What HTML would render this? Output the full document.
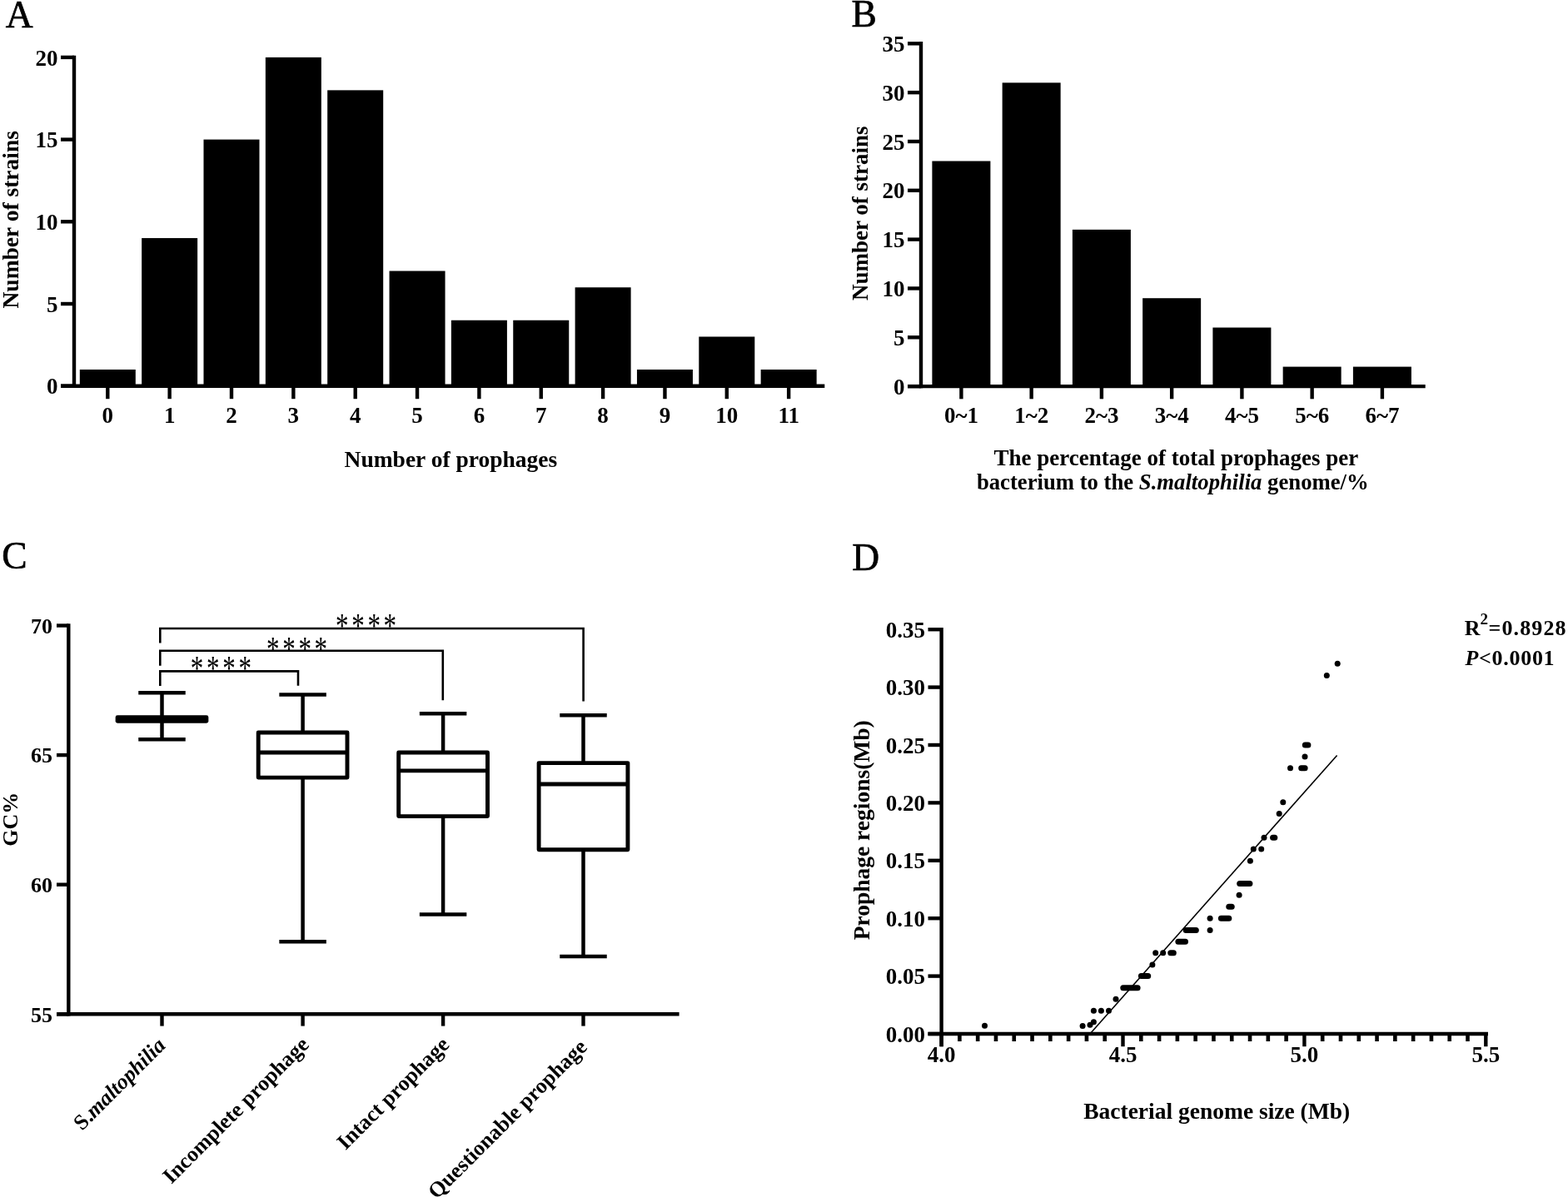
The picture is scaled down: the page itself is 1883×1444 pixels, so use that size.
<!DOCTYPE html>
<html><head><meta charset="utf-8"><title>Figure</title>
<style>
html,body{margin:0;padding:0;background:#fff;}
svg{display:block;}
svg text{font-family:'Liberation Serif','Times New Roman',serif;fill:#000;}
</style></head>
<body>
<svg width="1883" height="1444" viewBox="0 0 1883 1444">
<rect x="0" y="0" width="1883" height="1444" fill="#fff"/>
<text x="6.70" y="32.60" font-size="45.5" text-anchor="start" font-weight="normal" font-style="normal" stroke="#000" stroke-width="0.7">A</text>
<text x="1022.50" y="31.90" font-size="45.5" text-anchor="start" font-weight="normal" font-style="normal" stroke="#000" stroke-width="0.7">B</text>
<text x="2.30" y="683.00" font-size="45.5" text-anchor="start" font-weight="normal" font-style="normal" stroke="#000" stroke-width="0.7">C</text>
<text x="1023.30" y="684.50" font-size="45.5" text-anchor="start" font-weight="normal" font-style="normal" stroke="#000" stroke-width="0.7">D</text>
<rect x="95.80" y="443.96" width="67.00" height="19.74" fill="#000"/>
<rect x="170.15" y="286.04" width="67.00" height="177.66" fill="#000"/>
<rect x="244.50" y="167.60" width="67.00" height="296.10" fill="#000"/>
<rect x="318.85" y="68.90" width="67.00" height="394.80" fill="#000"/>
<rect x="393.20" y="108.38" width="67.00" height="355.32" fill="#000"/>
<rect x="467.55" y="325.52" width="67.00" height="138.18" fill="#000"/>
<rect x="541.90" y="384.74" width="67.00" height="78.96" fill="#000"/>
<rect x="616.25" y="384.74" width="67.00" height="78.96" fill="#000"/>
<rect x="690.60" y="345.26" width="67.00" height="118.44" fill="#000"/>
<rect x="764.95" y="443.96" width="67.00" height="19.74" fill="#000"/>
<rect x="839.30" y="404.48" width="67.00" height="59.22" fill="#000"/>
<rect x="913.65" y="443.96" width="67.00" height="19.74" fill="#000"/>
<line x1="89.00" y1="66.70" x2="89.00" y2="465.90" stroke="#000" stroke-width="4.4" stroke-linecap="butt"/>
<line x1="73.00" y1="463.70" x2="990.30" y2="463.70" stroke="#000" stroke-width="4.4" stroke-linecap="butt"/>
<line x1="73.00" y1="463.70" x2="89.00" y2="463.70" stroke="#000" stroke-width="4.4" stroke-linecap="butt"/>
<text x="69.50" y="473.30" font-size="27" text-anchor="end" font-weight="bold" font-style="normal" >0</text>
<line x1="73.00" y1="365.00" x2="89.00" y2="365.00" stroke="#000" stroke-width="4.4" stroke-linecap="butt"/>
<text x="69.50" y="374.60" font-size="27" text-anchor="end" font-weight="bold" font-style="normal" >5</text>
<line x1="73.00" y1="266.30" x2="89.00" y2="266.30" stroke="#000" stroke-width="4.4" stroke-linecap="butt"/>
<text x="69.50" y="275.90" font-size="27" text-anchor="end" font-weight="bold" font-style="normal" >10</text>
<line x1="73.00" y1="167.60" x2="89.00" y2="167.60" stroke="#000" stroke-width="4.4" stroke-linecap="butt"/>
<text x="69.50" y="177.20" font-size="27" text-anchor="end" font-weight="bold" font-style="normal" >15</text>
<line x1="73.00" y1="68.90" x2="89.00" y2="68.90" stroke="#000" stroke-width="4.4" stroke-linecap="butt"/>
<text x="69.50" y="78.50" font-size="27" text-anchor="end" font-weight="bold" font-style="normal" >20</text>
<line x1="129.30" y1="463.70" x2="129.30" y2="479.20" stroke="#000" stroke-width="4.4" stroke-linecap="butt"/>
<text x="129.30" y="507.80" font-size="27" text-anchor="middle" font-weight="bold" font-style="normal" >0</text>
<line x1="203.65" y1="463.70" x2="203.65" y2="479.20" stroke="#000" stroke-width="4.4" stroke-linecap="butt"/>
<text x="203.65" y="507.80" font-size="27" text-anchor="middle" font-weight="bold" font-style="normal" >1</text>
<line x1="278.00" y1="463.70" x2="278.00" y2="479.20" stroke="#000" stroke-width="4.4" stroke-linecap="butt"/>
<text x="278.00" y="507.80" font-size="27" text-anchor="middle" font-weight="bold" font-style="normal" >2</text>
<line x1="352.35" y1="463.70" x2="352.35" y2="479.20" stroke="#000" stroke-width="4.4" stroke-linecap="butt"/>
<text x="352.35" y="507.80" font-size="27" text-anchor="middle" font-weight="bold" font-style="normal" >3</text>
<line x1="426.70" y1="463.70" x2="426.70" y2="479.20" stroke="#000" stroke-width="4.4" stroke-linecap="butt"/>
<text x="426.70" y="507.80" font-size="27" text-anchor="middle" font-weight="bold" font-style="normal" >4</text>
<line x1="501.05" y1="463.70" x2="501.05" y2="479.20" stroke="#000" stroke-width="4.4" stroke-linecap="butt"/>
<text x="501.05" y="507.80" font-size="27" text-anchor="middle" font-weight="bold" font-style="normal" >5</text>
<line x1="575.40" y1="463.70" x2="575.40" y2="479.20" stroke="#000" stroke-width="4.4" stroke-linecap="butt"/>
<text x="575.40" y="507.80" font-size="27" text-anchor="middle" font-weight="bold" font-style="normal" >6</text>
<line x1="649.75" y1="463.70" x2="649.75" y2="479.20" stroke="#000" stroke-width="4.4" stroke-linecap="butt"/>
<text x="649.75" y="507.80" font-size="27" text-anchor="middle" font-weight="bold" font-style="normal" >7</text>
<line x1="724.10" y1="463.70" x2="724.10" y2="479.20" stroke="#000" stroke-width="4.4" stroke-linecap="butt"/>
<text x="724.10" y="507.80" font-size="27" text-anchor="middle" font-weight="bold" font-style="normal" >8</text>
<line x1="798.45" y1="463.70" x2="798.45" y2="479.20" stroke="#000" stroke-width="4.4" stroke-linecap="butt"/>
<text x="798.45" y="507.80" font-size="27" text-anchor="middle" font-weight="bold" font-style="normal" >9</text>
<line x1="872.80" y1="463.70" x2="872.80" y2="479.20" stroke="#000" stroke-width="4.4" stroke-linecap="butt"/>
<text x="872.80" y="507.80" font-size="27" text-anchor="middle" font-weight="bold" font-style="normal" >10</text>
<line x1="947.15" y1="463.70" x2="947.15" y2="479.20" stroke="#000" stroke-width="4.4" stroke-linecap="butt"/>
<text x="947.15" y="507.80" font-size="27" text-anchor="middle" font-weight="bold" font-style="normal" >11</text>
<text x="541.40" y="560.60" font-size="27.5" text-anchor="middle" font-weight="bold" font-style="normal" >Number of prophages</text>
<text x="0.00" y="0.00" font-size="27.5" text-anchor="middle" font-weight="bold" font-style="normal" transform="translate(22.4,263.8) rotate(-90)">Number of strains</text>
<rect x="1119.40" y="193.50" width="70.00" height="270.60" fill="#000"/>
<rect x="1203.65" y="99.38" width="70.00" height="364.72" fill="#000"/>
<rect x="1287.90" y="275.86" width="70.00" height="188.24" fill="#000"/>
<rect x="1372.15" y="358.22" width="70.00" height="105.89" fill="#000"/>
<rect x="1456.40" y="393.51" width="70.00" height="70.59" fill="#000"/>
<rect x="1540.65" y="440.57" width="70.00" height="23.53" fill="#000"/>
<rect x="1624.90" y="440.57" width="70.00" height="23.53" fill="#000"/>
<line x1="1106.00" y1="50.12" x2="1106.00" y2="466.30" stroke="#000" stroke-width="4.4" stroke-linecap="butt"/>
<line x1="1090.00" y1="464.10" x2="1711.70" y2="464.10" stroke="#000" stroke-width="4.4" stroke-linecap="butt"/>
<line x1="1090.00" y1="464.10" x2="1106.00" y2="464.10" stroke="#000" stroke-width="4.4" stroke-linecap="butt"/>
<text x="1086.50" y="473.70" font-size="27" text-anchor="end" font-weight="bold" font-style="normal" >0</text>
<line x1="1090.00" y1="405.28" x2="1106.00" y2="405.28" stroke="#000" stroke-width="4.4" stroke-linecap="butt"/>
<text x="1086.50" y="414.88" font-size="27" text-anchor="end" font-weight="bold" font-style="normal" >5</text>
<line x1="1090.00" y1="346.45" x2="1106.00" y2="346.45" stroke="#000" stroke-width="4.4" stroke-linecap="butt"/>
<text x="1086.50" y="356.05" font-size="27" text-anchor="end" font-weight="bold" font-style="normal" >10</text>
<line x1="1090.00" y1="287.62" x2="1106.00" y2="287.62" stroke="#000" stroke-width="4.4" stroke-linecap="butt"/>
<text x="1086.50" y="297.23" font-size="27" text-anchor="end" font-weight="bold" font-style="normal" >15</text>
<line x1="1090.00" y1="228.80" x2="1106.00" y2="228.80" stroke="#000" stroke-width="4.4" stroke-linecap="butt"/>
<text x="1086.50" y="238.40" font-size="27" text-anchor="end" font-weight="bold" font-style="normal" >20</text>
<line x1="1090.00" y1="169.98" x2="1106.00" y2="169.98" stroke="#000" stroke-width="4.4" stroke-linecap="butt"/>
<text x="1086.50" y="179.58" font-size="27" text-anchor="end" font-weight="bold" font-style="normal" >25</text>
<line x1="1090.00" y1="111.15" x2="1106.00" y2="111.15" stroke="#000" stroke-width="4.4" stroke-linecap="butt"/>
<text x="1086.50" y="120.75" font-size="27" text-anchor="end" font-weight="bold" font-style="normal" >30</text>
<line x1="1090.00" y1="52.32" x2="1106.00" y2="52.32" stroke="#000" stroke-width="4.4" stroke-linecap="butt"/>
<text x="1086.50" y="61.92" font-size="27" text-anchor="end" font-weight="bold" font-style="normal" >35</text>
<line x1="1154.40" y1="464.10" x2="1154.40" y2="479.30" stroke="#000" stroke-width="4.4" stroke-linecap="butt"/>
<text x="1154.40" y="507.80" font-size="27" text-anchor="middle" font-weight="bold" font-style="normal" >0~1</text>
<line x1="1238.65" y1="464.10" x2="1238.65" y2="479.30" stroke="#000" stroke-width="4.4" stroke-linecap="butt"/>
<text x="1238.65" y="507.80" font-size="27" text-anchor="middle" font-weight="bold" font-style="normal" >1~2</text>
<line x1="1322.90" y1="464.10" x2="1322.90" y2="479.30" stroke="#000" stroke-width="4.4" stroke-linecap="butt"/>
<text x="1322.90" y="507.80" font-size="27" text-anchor="middle" font-weight="bold" font-style="normal" >2~3</text>
<line x1="1407.15" y1="464.10" x2="1407.15" y2="479.30" stroke="#000" stroke-width="4.4" stroke-linecap="butt"/>
<text x="1407.15" y="507.80" font-size="27" text-anchor="middle" font-weight="bold" font-style="normal" >3~4</text>
<line x1="1491.40" y1="464.10" x2="1491.40" y2="479.30" stroke="#000" stroke-width="4.4" stroke-linecap="butt"/>
<text x="1491.40" y="507.80" font-size="27" text-anchor="middle" font-weight="bold" font-style="normal" >4~5</text>
<line x1="1575.65" y1="464.10" x2="1575.65" y2="479.30" stroke="#000" stroke-width="4.4" stroke-linecap="butt"/>
<text x="1575.65" y="507.80" font-size="27" text-anchor="middle" font-weight="bold" font-style="normal" >5~6</text>
<line x1="1659.90" y1="464.10" x2="1659.90" y2="479.30" stroke="#000" stroke-width="4.4" stroke-linecap="butt"/>
<text x="1659.90" y="507.80" font-size="27" text-anchor="middle" font-weight="bold" font-style="normal" >6~7</text>
<text x="1412.30" y="559.20" font-size="27" text-anchor="middle" font-weight="bold" font-style="normal" >The percentage of total prophages per</text>
<text x="1408.30" y="587.90" font-size="26.7" text-anchor="middle" font-weight="bold" font-style="normal" >bacterium to the <tspan font-style="italic">S.maltophilia</tspan> genome/%</text>
<text x="0.00" y="0.00" font-size="27" text-anchor="middle" font-weight="bold" font-style="normal" transform="translate(1041.8,256.3) rotate(-90)">Number of strains</text>
<line x1="82.30" y1="749.30" x2="82.30" y2="1220.50" stroke="#000" stroke-width="4.4" stroke-linecap="butt"/>
<line x1="68.00" y1="1218.30" x2="815.60" y2="1218.30" stroke="#000" stroke-width="4.4" stroke-linecap="butt"/>
<line x1="68.00" y1="1218.30" x2="82.30" y2="1218.30" stroke="#000" stroke-width="4.4" stroke-linecap="butt"/>
<text x="63.00" y="1227.60" font-size="26" text-anchor="end" font-weight="bold" font-style="normal" >55</text>
<line x1="68.00" y1="1062.70" x2="82.30" y2="1062.70" stroke="#000" stroke-width="4.4" stroke-linecap="butt"/>
<text x="63.00" y="1072.00" font-size="26" text-anchor="end" font-weight="bold" font-style="normal" >60</text>
<line x1="68.00" y1="907.10" x2="82.30" y2="907.10" stroke="#000" stroke-width="4.4" stroke-linecap="butt"/>
<text x="63.00" y="916.40" font-size="26" text-anchor="end" font-weight="bold" font-style="normal" >65</text>
<line x1="68.00" y1="751.50" x2="82.30" y2="751.50" stroke="#000" stroke-width="4.4" stroke-linecap="butt"/>
<text x="63.00" y="760.80" font-size="26" text-anchor="end" font-weight="bold" font-style="normal" >70</text>
<line x1="194.50" y1="1218.30" x2="194.50" y2="1232.60" stroke="#000" stroke-width="4.4" stroke-linecap="butt"/>
<line x1="363.60" y1="1218.30" x2="363.60" y2="1232.60" stroke="#000" stroke-width="4.4" stroke-linecap="butt"/>
<line x1="532.10" y1="1218.30" x2="532.10" y2="1232.60" stroke="#000" stroke-width="4.4" stroke-linecap="butt"/>
<line x1="700.50" y1="1218.30" x2="700.50" y2="1232.60" stroke="#000" stroke-width="4.4" stroke-linecap="butt"/>
<line x1="194.50" y1="832.30" x2="194.50" y2="861.80" stroke="#000" stroke-width="4.5" stroke-linecap="butt"/>
<line x1="194.50" y1="866.20" x2="194.50" y2="888.30" stroke="#000" stroke-width="4.5" stroke-linecap="butt"/>
<line x1="166.25" y1="832.30" x2="222.75" y2="832.30" stroke="#000" stroke-width="4.5" stroke-linecap="butt"/>
<line x1="166.25" y1="888.30" x2="222.75" y2="888.30" stroke="#000" stroke-width="4.5" stroke-linecap="butt"/>
<rect x="141.10" y="861.80" width="106.80" height="4.40" fill="#fff" stroke="#000" stroke-width="4.9" stroke-linejoin="round"/>
<line x1="141.10" y1="864.00" x2="247.90" y2="864.00" stroke="#000" stroke-width="4.9" stroke-linecap="butt"/>
<line x1="363.60" y1="834.50" x2="363.60" y2="880.00" stroke="#000" stroke-width="4.5" stroke-linecap="butt"/>
<line x1="363.60" y1="934.10" x2="363.60" y2="1131.30" stroke="#000" stroke-width="4.5" stroke-linecap="butt"/>
<line x1="335.35" y1="834.50" x2="391.85" y2="834.50" stroke="#000" stroke-width="4.5" stroke-linecap="butt"/>
<line x1="335.35" y1="1131.30" x2="391.85" y2="1131.30" stroke="#000" stroke-width="4.5" stroke-linecap="butt"/>
<rect x="310.20" y="880.00" width="106.80" height="54.10" fill="#fff" stroke="#000" stroke-width="4.9" stroke-linejoin="round"/>
<line x1="310.20" y1="904.00" x2="417.00" y2="904.00" stroke="#000" stroke-width="4.9" stroke-linecap="butt"/>
<line x1="532.10" y1="857.30" x2="532.10" y2="904.00" stroke="#000" stroke-width="4.5" stroke-linecap="butt"/>
<line x1="532.10" y1="980.60" x2="532.10" y2="1098.60" stroke="#000" stroke-width="4.5" stroke-linecap="butt"/>
<line x1="503.85" y1="857.30" x2="560.35" y2="857.30" stroke="#000" stroke-width="4.5" stroke-linecap="butt"/>
<line x1="503.85" y1="1098.60" x2="560.35" y2="1098.60" stroke="#000" stroke-width="4.5" stroke-linecap="butt"/>
<rect x="478.70" y="904.00" width="106.80" height="76.60" fill="#fff" stroke="#000" stroke-width="4.9" stroke-linejoin="round"/>
<line x1="478.70" y1="925.90" x2="585.50" y2="925.90" stroke="#000" stroke-width="4.9" stroke-linecap="butt"/>
<line x1="700.50" y1="859.30" x2="700.50" y2="916.60" stroke="#000" stroke-width="4.5" stroke-linecap="butt"/>
<line x1="700.50" y1="1020.80" x2="700.50" y2="1148.90" stroke="#000" stroke-width="4.5" stroke-linecap="butt"/>
<line x1="672.25" y1="859.30" x2="728.75" y2="859.30" stroke="#000" stroke-width="4.5" stroke-linecap="butt"/>
<line x1="672.25" y1="1148.90" x2="728.75" y2="1148.90" stroke="#000" stroke-width="4.5" stroke-linecap="butt"/>
<rect x="647.10" y="916.60" width="106.80" height="104.20" fill="#fff" stroke="#000" stroke-width="4.9" stroke-linejoin="round"/>
<line x1="647.10" y1="942.00" x2="753.90" y2="942.00" stroke="#000" stroke-width="4.9" stroke-linecap="butt"/>
<polyline points="192.30,824.00 192.30,806.40 358.00,806.40 358.00,823.80" fill="none" stroke="#000" stroke-width="2.6"/>
<polyline points="192.30,799.80 192.30,781.80 531.80,781.80 531.80,841.20" fill="none" stroke="#000" stroke-width="2.6"/>
<polyline points="192.30,772.40 192.30,755.00 700.60,755.00 700.60,842.40" fill="none" stroke="#000" stroke-width="2.6"/>
<text x="0" y="0" font-size="31" font-weight="normal" letter-spacing="3.7" transform="translate(228.80,816.80) scale(1,1.35)">****</text>
<text x="0" y="0" font-size="31" font-weight="normal" letter-spacing="3.7" transform="translate(320.00,793.60) scale(1,1.35)">****</text>
<text x="0" y="0" font-size="31" font-weight="normal" letter-spacing="3.7" transform="translate(403.00,765.50) scale(1,1.35)">****</text>
<text x="0.00" y="0.00" font-size="26" text-anchor="middle" font-weight="bold" font-style="normal" transform="translate(20.5,984.3) rotate(-90)">GC%</text>
<text x="0.00" y="0.00" font-size="26" text-anchor="end" font-weight="bold" font-style="normal" transform="translate(200.10,1257.40) rotate(-45)"><tspan>S.</tspan><tspan font-style="italic">maltophilia</tspan></text>
<text x="0.00" y="0.00" font-size="26" text-anchor="end" font-weight="bold" font-style="normal" transform="translate(372.40,1256.40) rotate(-45)">Incomplete prophage</text>
<text x="0.00" y="0.00" font-size="26" text-anchor="end" font-weight="bold" font-style="normal" transform="translate(540.90,1256.40) rotate(-45)">Intact prophage</text>
<text x="0.00" y="0.00" font-size="26" text-anchor="end" font-weight="bold" font-style="normal" transform="translate(706.30,1259.40) rotate(-45)">Questionable prophage</text>
<line x1="1130.60" y1="754.00" x2="1130.60" y2="1257.20" stroke="#000" stroke-width="4.4" stroke-linecap="butt"/>
<line x1="1114.50" y1="1242.00" x2="1787.00" y2="1242.00" stroke="#000" stroke-width="4.4" stroke-linecap="butt"/>
<line x1="1114.50" y1="1242.00" x2="1130.60" y2="1242.00" stroke="#000" stroke-width="4.4" stroke-linecap="butt"/>
<text x="1111.00" y="1251.60" font-size="27" text-anchor="end" font-weight="bold" font-style="normal" >0.00</text>
<line x1="1114.50" y1="1172.60" x2="1130.60" y2="1172.60" stroke="#000" stroke-width="4.4" stroke-linecap="butt"/>
<text x="1111.00" y="1182.20" font-size="27" text-anchor="end" font-weight="bold" font-style="normal" >0.05</text>
<line x1="1114.50" y1="1103.20" x2="1130.60" y2="1103.20" stroke="#000" stroke-width="4.4" stroke-linecap="butt"/>
<text x="1111.00" y="1112.80" font-size="27" text-anchor="end" font-weight="bold" font-style="normal" >0.10</text>
<line x1="1114.50" y1="1033.80" x2="1130.60" y2="1033.80" stroke="#000" stroke-width="4.4" stroke-linecap="butt"/>
<text x="1111.00" y="1043.40" font-size="27" text-anchor="end" font-weight="bold" font-style="normal" >0.15</text>
<line x1="1114.50" y1="964.40" x2="1130.60" y2="964.40" stroke="#000" stroke-width="4.4" stroke-linecap="butt"/>
<text x="1111.00" y="974.00" font-size="27" text-anchor="end" font-weight="bold" font-style="normal" >0.20</text>
<line x1="1114.50" y1="895.00" x2="1130.60" y2="895.00" stroke="#000" stroke-width="4.4" stroke-linecap="butt"/>
<text x="1111.00" y="904.60" font-size="27" text-anchor="end" font-weight="bold" font-style="normal" >0.25</text>
<line x1="1114.50" y1="825.60" x2="1130.60" y2="825.60" stroke="#000" stroke-width="4.4" stroke-linecap="butt"/>
<text x="1111.00" y="835.20" font-size="27" text-anchor="end" font-weight="bold" font-style="normal" >0.30</text>
<line x1="1114.50" y1="756.20" x2="1130.60" y2="756.20" stroke="#000" stroke-width="4.4" stroke-linecap="butt"/>
<text x="1111.00" y="765.80" font-size="27" text-anchor="end" font-weight="bold" font-style="normal" >0.35</text>
<line x1="1130.60" y1="1242.00" x2="1130.60" y2="1257.20" stroke="#000" stroke-width="4.4" stroke-linecap="butt"/>
<line x1="1152.39" y1="1242.00" x2="1152.39" y2="1251.00" stroke="#000" stroke-width="4.6" stroke-linecap="butt"/>
<line x1="1174.18" y1="1242.00" x2="1174.18" y2="1251.00" stroke="#000" stroke-width="4.6" stroke-linecap="butt"/>
<line x1="1195.97" y1="1242.00" x2="1195.97" y2="1251.00" stroke="#000" stroke-width="4.6" stroke-linecap="butt"/>
<line x1="1217.76" y1="1242.00" x2="1217.76" y2="1251.00" stroke="#000" stroke-width="4.6" stroke-linecap="butt"/>
<line x1="1239.55" y1="1242.00" x2="1239.55" y2="1251.00" stroke="#000" stroke-width="4.6" stroke-linecap="butt"/>
<line x1="1261.34" y1="1242.00" x2="1261.34" y2="1251.00" stroke="#000" stroke-width="4.6" stroke-linecap="butt"/>
<line x1="1283.13" y1="1242.00" x2="1283.13" y2="1251.00" stroke="#000" stroke-width="4.6" stroke-linecap="butt"/>
<line x1="1304.92" y1="1242.00" x2="1304.92" y2="1251.00" stroke="#000" stroke-width="4.6" stroke-linecap="butt"/>
<line x1="1326.71" y1="1242.00" x2="1326.71" y2="1251.00" stroke="#000" stroke-width="4.6" stroke-linecap="butt"/>
<line x1="1348.50" y1="1242.00" x2="1348.50" y2="1257.20" stroke="#000" stroke-width="4.4" stroke-linecap="butt"/>
<line x1="1370.29" y1="1242.00" x2="1370.29" y2="1251.00" stroke="#000" stroke-width="4.6" stroke-linecap="butt"/>
<line x1="1392.08" y1="1242.00" x2="1392.08" y2="1251.00" stroke="#000" stroke-width="4.6" stroke-linecap="butt"/>
<line x1="1413.87" y1="1242.00" x2="1413.87" y2="1251.00" stroke="#000" stroke-width="4.6" stroke-linecap="butt"/>
<line x1="1435.66" y1="1242.00" x2="1435.66" y2="1251.00" stroke="#000" stroke-width="4.6" stroke-linecap="butt"/>
<line x1="1457.45" y1="1242.00" x2="1457.45" y2="1251.00" stroke="#000" stroke-width="4.6" stroke-linecap="butt"/>
<line x1="1479.24" y1="1242.00" x2="1479.24" y2="1251.00" stroke="#000" stroke-width="4.6" stroke-linecap="butt"/>
<line x1="1501.03" y1="1242.00" x2="1501.03" y2="1251.00" stroke="#000" stroke-width="4.6" stroke-linecap="butt"/>
<line x1="1522.82" y1="1242.00" x2="1522.82" y2="1251.00" stroke="#000" stroke-width="4.6" stroke-linecap="butt"/>
<line x1="1544.61" y1="1242.00" x2="1544.61" y2="1251.00" stroke="#000" stroke-width="4.6" stroke-linecap="butt"/>
<line x1="1566.40" y1="1242.00" x2="1566.40" y2="1257.20" stroke="#000" stroke-width="4.4" stroke-linecap="butt"/>
<line x1="1588.19" y1="1242.00" x2="1588.19" y2="1251.00" stroke="#000" stroke-width="4.6" stroke-linecap="butt"/>
<line x1="1609.98" y1="1242.00" x2="1609.98" y2="1251.00" stroke="#000" stroke-width="4.6" stroke-linecap="butt"/>
<line x1="1631.77" y1="1242.00" x2="1631.77" y2="1251.00" stroke="#000" stroke-width="4.6" stroke-linecap="butt"/>
<line x1="1653.56" y1="1242.00" x2="1653.56" y2="1251.00" stroke="#000" stroke-width="4.6" stroke-linecap="butt"/>
<line x1="1675.35" y1="1242.00" x2="1675.35" y2="1251.00" stroke="#000" stroke-width="4.6" stroke-linecap="butt"/>
<line x1="1697.14" y1="1242.00" x2="1697.14" y2="1251.00" stroke="#000" stroke-width="4.6" stroke-linecap="butt"/>
<line x1="1718.93" y1="1242.00" x2="1718.93" y2="1251.00" stroke="#000" stroke-width="4.6" stroke-linecap="butt"/>
<line x1="1740.72" y1="1242.00" x2="1740.72" y2="1251.00" stroke="#000" stroke-width="4.6" stroke-linecap="butt"/>
<line x1="1762.51" y1="1242.00" x2="1762.51" y2="1251.00" stroke="#000" stroke-width="4.6" stroke-linecap="butt"/>
<line x1="1784.30" y1="1242.00" x2="1784.30" y2="1257.20" stroke="#000" stroke-width="4.4" stroke-linecap="butt"/>
<text x="1130.60" y="1275.60" font-size="27" text-anchor="middle" font-weight="bold" font-style="normal" >4.0</text>
<text x="1348.50" y="1275.60" font-size="27" text-anchor="middle" font-weight="bold" font-style="normal" >4.5</text>
<text x="1566.40" y="1275.60" font-size="27" text-anchor="middle" font-weight="bold" font-style="normal" >5.0</text>
<text x="1784.30" y="1275.60" font-size="27" text-anchor="middle" font-weight="bold" font-style="normal" >5.5</text>
<text x="1461.20" y="1343.60" font-size="27.5" text-anchor="middle" font-weight="bold" font-style="normal" >Bacterial genome size (Mb)</text>
<text x="0.00" y="0.00" font-size="27.5" text-anchor="middle" font-weight="bold" font-style="normal" transform="translate(1044.3,997.3) rotate(-90)">Prophage regions(Mb)</text>
<text x="1758.8" y="763" font-size="26" font-weight="bold">R<tspan font-size="19" dy="-13" letter-spacing="0.5">2</tspan><tspan dy="13" letter-spacing="1.1">=0.8928</tspan></text>
<text x="1759.5" y="799" font-size="26" font-weight="bold" letter-spacing="0.7"><tspan font-style="italic">P</tspan>&lt;0.0001</text>
<line x1="1309.00" y1="1242.00" x2="1605.60" y2="907.50" stroke="#000" stroke-width="1.6" stroke-linecap="butt"/>
<circle cx="1182.50" cy="1232.30" r="3.5" fill="#000"/>
<circle cx="1300.10" cy="1232.40" r="3.5" fill="#000"/>
<circle cx="1309.00" cy="1231.30" r="3.5" fill="#000"/>
<circle cx="1313.40" cy="1227.80" r="3.5" fill="#000"/>
<circle cx="1313.40" cy="1214.30" r="3.5" fill="#000"/>
<circle cx="1322.40" cy="1214.30" r="3.5" fill="#000"/>
<circle cx="1331.50" cy="1214.30" r="3.5" fill="#000"/>
<circle cx="1340.00" cy="1200.30" r="3.5" fill="#000"/>
<circle cx="1383.90" cy="1158.90" r="3.5" fill="#000"/>
<circle cx="1387.70" cy="1144.70" r="3.5" fill="#000"/>
<circle cx="1396.70" cy="1144.70" r="3.5" fill="#000"/>
<circle cx="1453.10" cy="1117.40" r="3.5" fill="#000"/>
<circle cx="1453.10" cy="1103.20" r="3.5" fill="#000"/>
<circle cx="1488.10" cy="1075.20" r="3.5" fill="#000"/>
<circle cx="1501.40" cy="1034.20" r="3.5" fill="#000"/>
<circle cx="1505.30" cy="1020.00" r="3.5" fill="#000"/>
<circle cx="1514.70" cy="1020.00" r="3.5" fill="#000"/>
<circle cx="1518.00" cy="1006.30" r="3.5" fill="#000"/>
<circle cx="1536.20" cy="977.50" r="3.5" fill="#000"/>
<circle cx="1540.80" cy="963.80" r="3.5" fill="#000"/>
<circle cx="1549.50" cy="922.70" r="3.5" fill="#000"/>
<circle cx="1567.00" cy="908.90" r="3.5" fill="#000"/>
<circle cx="1593.30" cy="811.50" r="3.5" fill="#000"/>
<circle cx="1606.20" cy="797.30" r="3.5" fill="#000"/>
<line x1="1348.80" y1="1186.70" x2="1366.10" y2="1186.70" stroke="#000" stroke-width="7.0" stroke-linecap="round"/>
<line x1="1370.40" y1="1172.60" x2="1378.70" y2="1172.60" stroke="#000" stroke-width="7.0" stroke-linecap="round"/>
<line x1="1405.80" y1="1144.70" x2="1409.30" y2="1144.70" stroke="#000" stroke-width="7.0" stroke-linecap="round"/>
<line x1="1414.90" y1="1131.20" x2="1423.50" y2="1131.20" stroke="#000" stroke-width="7.0" stroke-linecap="round"/>
<line x1="1424.20" y1="1117.40" x2="1436.30" y2="1117.40" stroke="#000" stroke-width="7.0" stroke-linecap="round"/>
<line x1="1466.40" y1="1103.20" x2="1475.80" y2="1103.20" stroke="#000" stroke-width="7.0" stroke-linecap="round"/>
<line x1="1475.80" y1="1089.30" x2="1479.20" y2="1089.30" stroke="#000" stroke-width="7.0" stroke-linecap="round"/>
<line x1="1488.70" y1="1061.40" x2="1500.90" y2="1061.40" stroke="#000" stroke-width="7.0" stroke-linecap="round"/>
<line x1="1528.60" y1="1006.30" x2="1530.80" y2="1006.30" stroke="#000" stroke-width="7.0" stroke-linecap="round"/>
<line x1="1562.70" y1="922.70" x2="1567.10" y2="922.70" stroke="#000" stroke-width="7.0" stroke-linecap="round"/>
<line x1="1567.30" y1="894.90" x2="1570.90" y2="894.90" stroke="#000" stroke-width="7.0" stroke-linecap="round"/>
</svg>
</body></html>
